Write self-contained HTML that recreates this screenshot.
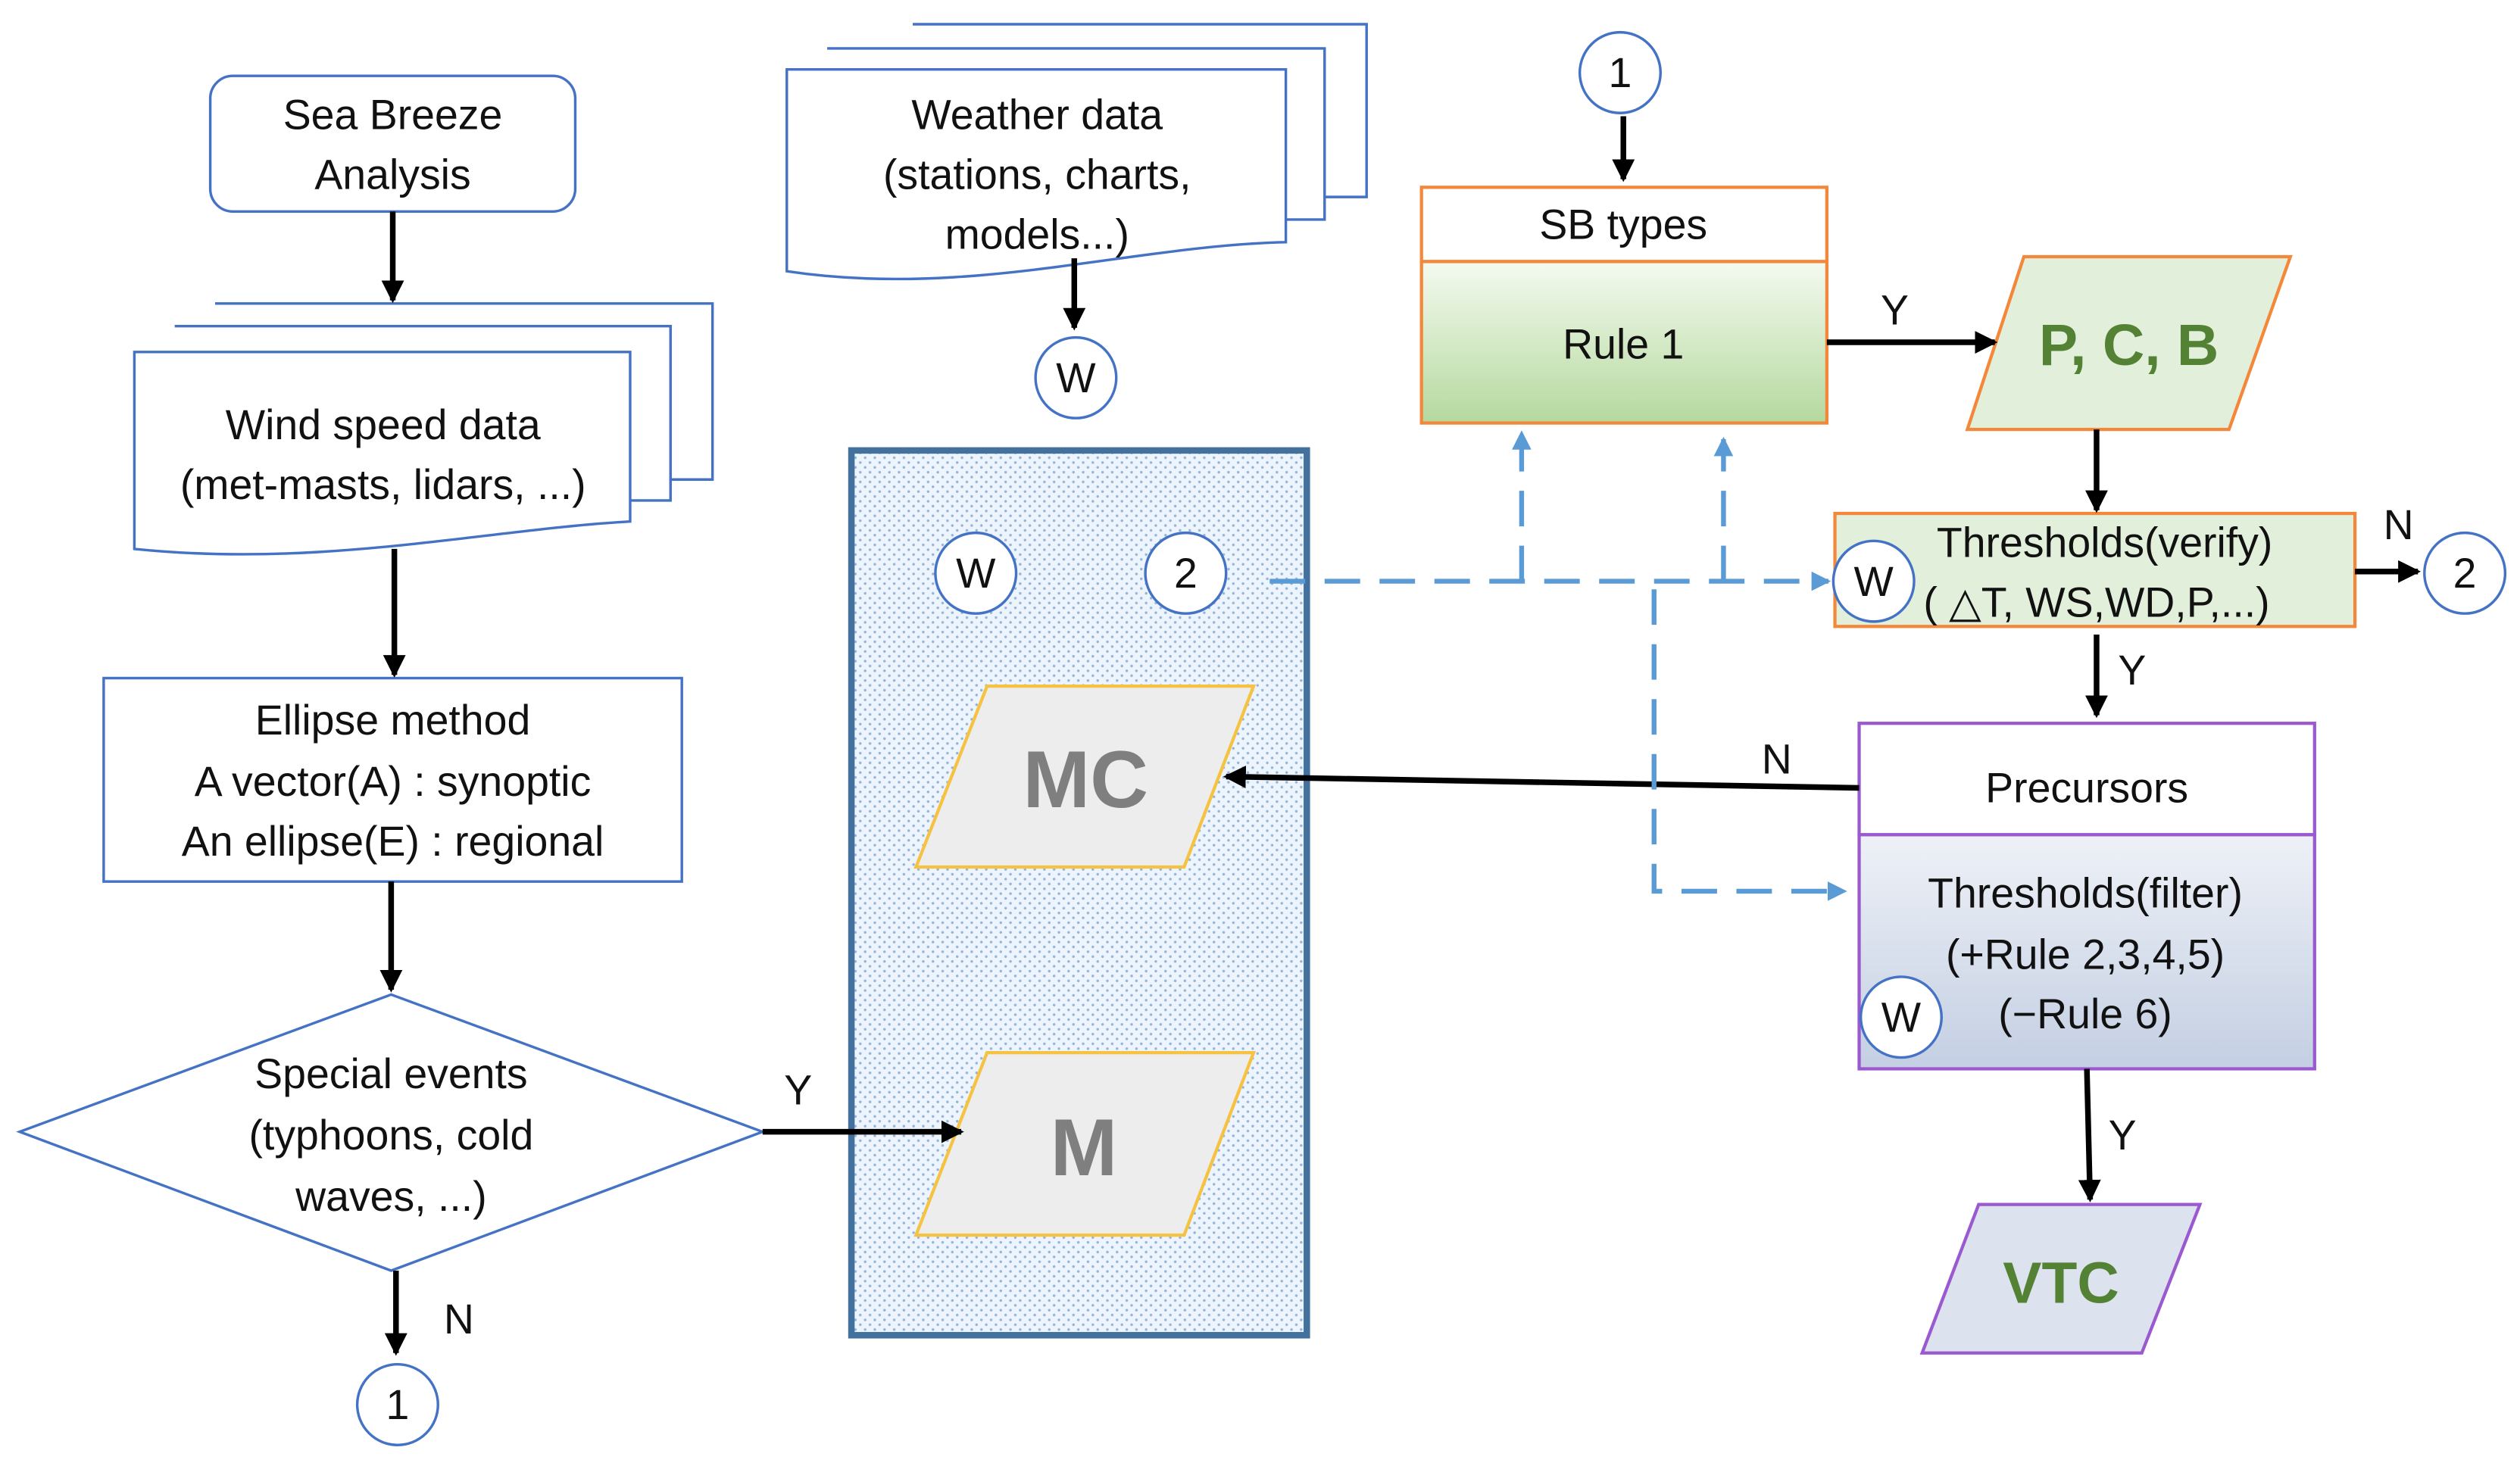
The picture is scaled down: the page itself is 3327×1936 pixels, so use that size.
<!DOCTYPE html>
<html><head><meta charset="utf-8"><style>
html,body{margin:0;padding:0;background:#fff;}
svg{display:block;}
text{font-family:"Liberation Sans",sans-serif;fill:#111;text-anchor:middle;}
</style></head><body>
<svg width="3327" height="1936" viewBox="0 0 1560 908" xmlns="http://www.w3.org/2000/svg">
<defs>
<marker id="ah" markerWidth="4" markerHeight="4" refX="3.5" refY="2" orient="auto" markerUnits="strokeWidth"><path d="M0,0 L4,2 L0,4 z" fill="#000"/></marker>
<marker id="bh" markerWidth="4" markerHeight="4" refX="3.5" refY="2" orient="auto" markerUnits="strokeWidth"><path d="M0,0 L4,2 L0,4 z" fill="#5b9bd5"/></marker>
<pattern id="dots" width="6" height="6" patternUnits="userSpaceOnUse"><rect width="6" height="6" fill="#eef4fb"/><circle cx="1.5" cy="1.5" r="0.8" fill="#8fb4de"/><circle cx="4.5" cy="4.5" r="0.8" fill="#8fb4de"/></pattern>
<linearGradient id="gG" x1="0" y1="0" x2="0" y2="1"><stop offset="0" stop-color="#f4faf0"/><stop offset="1" stop-color="#b5d99e"/></linearGradient>
<linearGradient id="gP" x1="0" y1="0" x2="0" y2="1"><stop offset="0" stop-color="#eef1f7"/><stop offset="1" stop-color="#c4cfe3"/></linearGradient>
</defs>
<g stroke="#4472c4" stroke-width="1.6" fill="#fff">
<rect x="130" y="47" width="226" height="84" rx="14"/>
<path d="M133,188 H441 V297 H415"/>
<path d="M108,202 H415 V310 H390"/>
<path d="M83,218 H390 V323 C300,328 200,352 83,340 Z"/>
<path d="M565,15 H846 V122 H820"/>
<path d="M512,30 H820 V136 H796"/>
<path d="M487,43 H796 V150 C700,152 600,185 487,168 Z"/>
<rect x="64" y="420" width="358" height="126"/>
<path d="M12,701 L242,616 L472,701 L242,787 Z"/>
</g>
<g font-size="26">
<text x="243" y="80">Sea Breeze</text><text x="243" y="117">Analysis</text>
<text x="237" y="272">Wind speed data</text><text x="237" y="309">(met-masts, lidars, ...)</text>
<text x="642" y="80">Weather data</text><text x="642" y="117">(stations, charts,</text><text x="642" y="154">models...)</text>
<text x="243" y="455">Ellipse method</text><text x="243" y="493">A vector(A) : synoptic</text><text x="243" y="530">An ellipse(E) : regional</text>
<text x="242" y="674">Special events</text><text x="242" y="712">(typhoons, cold</text><text x="242" y="750">waves, ...)</text>
</g>
<rect x="527" y="279" width="282" height="548" fill="url(#dots)" stroke="#41719c" stroke-width="4"/>
<g stroke="#f5c242" stroke-width="2" fill="#ededed">
<path d="M611,425 H776 L733,537 H567 Z"/>
<path d="M611,652 H776 L733,765 H567 Z"/>
</g>
<text x="672" y="500" font-size="50" font-weight="bold" style="fill:#7f7f7f">MC</text>
<text x="671" y="728" font-size="50" font-weight="bold" style="fill:#7f7f7f">M</text>
<rect x="880" y="116" width="251" height="46" fill="#fff" stroke="#f4883a" stroke-width="2"/>
<rect x="880" y="162" width="251" height="100" fill="url(#gG)" stroke="#f4883a" stroke-width="2"/>
<text x="1005" y="148" font-size="26">SB types</text>
<text x="1005" y="222" font-size="26">Rule 1</text>
<path d="M1253,159 H1418 L1380,266 H1218 Z" fill="#e2efda" stroke="#f4883a" stroke-width="2"/>
<text x="1318" y="226" font-size="36" font-weight="bold" style="fill:#548235">P, C, B</text>
<rect x="1136" y="318" width="322" height="70" fill="#e2efda" stroke="#f4883a" stroke-width="2"/>
<text x="1303" y="345" font-size="26">Thresholds(verify)</text>
<text x="1298" y="382" font-size="26">( △T, WS,WD,P,...)</text>
<rect x="1151" y="448" width="282" height="69" fill="#fff" stroke="#9b59d0" stroke-width="2"/>
<rect x="1151" y="517" width="282" height="145" fill="url(#gP)" stroke="#9b59d0" stroke-width="2"/>
<text x="1292" y="497" font-size="26">Precursors</text>
<text x="1291" y="562" font-size="26">Thresholds(filter)</text>
<text x="1291" y="600" font-size="26">(+Rule 2,3,4,5)</text>
<text x="1291" y="637" font-size="26">(−Rule 6)</text>
<path d="M1225,746 H1362 L1326,838 H1190 Z" fill="#dde3ee" stroke="#9b59d0" stroke-width="2"/>
<text x="1276" y="807" font-size="36" font-weight="bold" style="fill:#548235">VTC</text>
<g fill="#fff" stroke="#4472c4" stroke-width="1.6">
<circle cx="246" cy="870" r="25"/><circle cx="666" cy="234" r="25"/>
<circle cx="604" cy="355" r="25"/><circle cx="734" cy="355" r="25"/>
<circle cx="1003" cy="45" r="25"/><circle cx="1160" cy="360" r="25"/>
<circle cx="1526" cy="355" r="25"/><circle cx="1177" cy="630" r="25"/>
</g>
<g font-size="26">
<text x="246" y="879">1</text><text x="666" y="243">W</text>
<text x="604" y="364">W</text><text x="734" y="364">2</text>
<text x="1003" y="54">1</text><text x="1160" y="369">W</text>
<text x="1526" y="364">2</text><text x="1177" y="639">W</text>
</g>
<g stroke="#000" stroke-width="3.5" fill="none" marker-end="url(#ah)">
<path d="M243,131 V186"/><path d="M244,340 V418"/><path d="M242,546 V613"/>
<path d="M245,787 V838"/><path d="M472,701 H595"/><path d="M665,160 V203"/>
<path d="M1005,72 V111"/><path d="M1131,212 H1235"/><path d="M1298,266 V316"/>
<path d="M1458,354 H1497"/><path d="M1298,393 V443"/><path d="M1151,488 L759,481"/>
<path d="M1292,662 L1294,743"/>
</g>
<g font-size="26">
<text x="284" y="826">N</text><text x="494" y="684">Y</text>
<text x="1173" y="201">Y</text><text x="1485" y="334">N</text>
<text x="1320" y="424">Y</text><text x="1100" y="479">N</text><text x="1314" y="712">Y</text>
</g>
<g stroke="#5b9bd5" stroke-width="3" fill="none" stroke-dasharray="22,12">
<path d="M786,360 H1132" marker-end="url(#bh)"/>
<path d="M942,360 V268" marker-end="url(#bh)"/>
<path d="M1067,360 V272" marker-end="url(#bh)"/>
<path d="M1024,365 V552 H1142" marker-end="url(#bh)"/>
</g>
</svg>
</body></html>
